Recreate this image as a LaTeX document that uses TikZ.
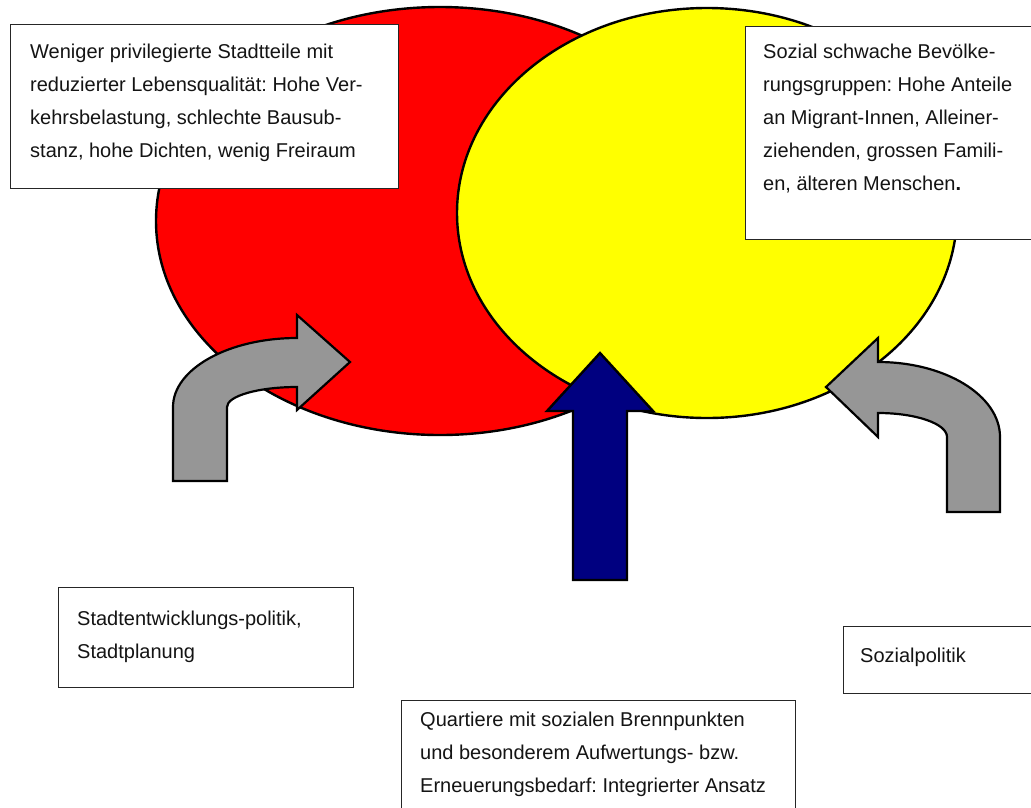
\documentclass[tikz,border=0pt]{standalone}
\usepackage{fontspec}
\setmainfont{Liberation Sans}
\usetikzlibrary{shapes.geometric}
\definecolor{redfill}{RGB}{255,0,0}
\definecolor{yellowfill}{RGB}{255,255,0}
\definecolor{arrowgray}{RGB}{150,150,150}
\definecolor{navyfill}{RGB}{0,0,128}
\definecolor{textdark}{RGB}{20,20,20}
\newcommand\myTopStrut{\rule{0pt}{16pt}}
\frenchspacing
\begin{document}
\begin{tikzpicture}[x=1pt,y=-1pt,line join=miter,
  blob/.style={ellipse,draw=black,line width=2.4pt,inner sep=0pt},
  box/.style={rectangle,draw=black!85,line width=1.4pt,fill=white,inner sep=0pt,anchor=north west},
  txt/.style={anchor=north west,align=left,inner sep=0pt,text=textdark,font=\fontsize{20}{33}\selectfont},
  grayarrow/.style={draw=black,line width=2.2pt,fill=arrowgray},
  bluearrow/.style={draw=black,line width=2.4pt,fill=navyfill}]
\useasboundingbox (0,0) rectangle (1031,807);
\clip (0,0) rectangle (1031,807);
% ellipses
\node[blob,fill=redfill,minimum width=568pt,minimum height=428pt] (red) at (440,221) {};
\node[blob,fill=yellowfill,minimum width=500pt,minimum height=410pt] (yellow) at (707,213) {};
% top boxes
\node[box,minimum width=388pt,minimum height=164pt] (b1) at (10,24) {};
\node[box,minimum width=320pt,minimum height=213pt] (b2) at (745,26) {};
% left curved arrow
\draw[grayarrow] (173,481) -- (173,407)
  .. controls (173,368.9) and (228.5,338) .. (297,338)
  -- (297,315) -- (350,362) -- (297,410) -- (297,387)
  .. controls (258.3,387) and (227,396) .. (227,407)
  -- (227,481) -- cycle;
% right curved arrow
\draw[grayarrow] (947,512) -- (947,437)
  .. controls (947,423.7) and (916.1,413) .. (878,413)
  -- (878,437) -- (826,387) -- (878,338) -- (878,362)
  .. controls (945.4,362) and (1000,395.6) .. (1000,437)
  -- (1000,512) -- cycle;
% blue arrow
\draw[bluearrow] (573,580) -- (573,411) -- (547,411) -- (600,353)
  -- (653,411) -- (627,411) -- (627,580) -- cycle;
% bottom boxes
\node[box,minimum width=295pt,minimum height=100pt] (b3) at (58,587) {};
\node[box,minimum width=220pt,minimum height=67pt] (b4) at (843,626) {};
\node[box,minimum width=394pt,minimum height=140pt] (b5) at (401,700) {};
% texts
\node[txt] (t1) at (30,42) {\myTopStrut Weniger privilegierte Stadtteile mit\\
reduzierter Lebensqualität: Hohe Ver-\\
kehrsbelastung, schlechte Bausub-\\
stanz, hohe Dichten, wenig Freiraum};
\node[txt] (t2) at (763,42) {\myTopStrut Sozial schwache Bevölke-\\
rungsgruppen: Hohe Anteile\\
an Migrant-Innen, Alleiner-\\
ziehenden, grossen Famili-\\
en, älteren Menschen\textbf{.}};
\node[txt] (t3) at (77,609) {\myTopStrut Stadtentwicklungs-politik,\\
Stadtplanung};
\node[txt] (t4) at (860,646) {\myTopStrut Sozialpolitik};
\node[txt] (t5) at (420,710) {\myTopStrut Quartiere mit sozialen Brennpunkten\\
und besonderem Aufwertungs- bzw.\\
Erneuerungsbedarf: Integrierter Ansatz};
\end{tikzpicture}
\end{document}
